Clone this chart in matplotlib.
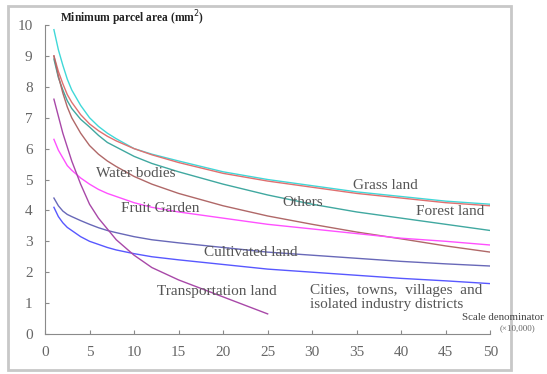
import matplotlib
matplotlib.use("Agg")
import matplotlib.pyplot as plt
from matplotlib.patches import Rectangle

plt.rcParams['font.family'] = ['Liberation Serif', 'DejaVu Serif']

# scale denominator (x 10,000) and minimum parcel area (mm2) per land type
scale = [1, 1.5, 2, 2.5, 3, 4, 5, 6, 7, 8, 10, 12, 15, 20, 25, 30, 35, 40, 45, 50]
grass = [9.85, 9.2, 8.7, 8.25, 7.9, 7.4, 7.0, 6.72, 6.5, 6.32, 6.0, 5.82, 5.6,
         5.25, 5.0, 4.8, 4.6, 4.45, 4.3, 4.2]
others = [9.0, 8.5, 8.1, 7.75, 7.5, 7.1, 6.8, 6.58, 6.4, 6.25, 6.0, 5.8, 5.55,
          5.2, 4.95, 4.75, 4.55, 4.4, 4.25, 4.15]
forest = [8.9, 8.3, 7.9, 7.55, 7.3, 6.95, 6.7, 6.43, 6.2, 6.05, 5.75, 5.52, 5.25,
          4.85, 4.5, 4.2, 3.95, 3.75, 3.55, 3.35]
water = [9.0, 8.35, 7.8, 7.35, 7.0, 6.5, 6.1, 5.82, 5.6, 5.42, 5.1, 4.85, 4.55,
         4.15, 3.82, 3.55, 3.3, 3.08, 2.85, 2.65]
fruit = [6.3, 5.95, 5.7, 5.45, 5.3, 5.05, 4.85, 4.68, 4.55, 4.45, 4.25, 4.1, 3.95,
         3.75, 3.55, 3.4, 3.25, 3.1, 3.0, 2.88]
cultivated = [4.4, 4.15, 3.98, 3.87, 3.8, 3.67, 3.55, 3.44, 3.35, 3.28, 3.15, 3.05,
              2.95, 2.8, 2.65, 2.55, 2.45, 2.35, 2.27, 2.2]
cities = [4.1, 3.8, 3.6, 3.45, 3.35, 3.15, 3.0, 2.9, 2.8, 2.72, 2.6, 2.5, 2.4,
          2.25, 2.1, 2.0, 1.9, 1.8, 1.72, 1.63]
scale_trans = [1, 1.5, 2, 2.5, 3, 4, 5, 6, 7, 8, 10, 12, 15, 20, 25]
transport = [7.6, 7.05, 6.5, 6.05, 5.6, 4.85, 4.2, 3.75, 3.4, 3.05, 2.55, 2.15,
             1.75, 1.2, 0.65]

fig = plt.figure(figsize=(5.47, 3.74), dpi=100)
ax = fig.add_axes([0.0823, 0.107, 0.814, 0.826])

ax.plot(scale, grass, color='#40d8d8', lw=1)
ax.plot(scale, others, color='#e07070', lw=1)
ax.plot(scale, forest, color='#40a8a0', lw=1)
ax.plot(scale, water, color='#b06868', lw=1)
ax.plot(scale, fruit, color='#ff50ff', lw=1)
ax.plot(scale, cultivated, color='#6868b8', lw=1)
ax.plot(scale, cities, color='#5858ff', lw=1)
ax.plot(scale_trans, transport, color='#a848a8', lw=1)

ax.set_xlim(0, 50)
ax.set_ylim(0, 10)
ax.set_xticks(range(0, 51, 5))
ax.set_yticks(range(0, 11))
for s in ['top', 'right']:
    ax.spines[s].set_visible(False)
for s in ['left', 'bottom']:
    ax.spines[s].set_color('#8a8a8a')
ax.tick_params(direction='in', length=3, color='#8a8a8a', labelcolor='#666666',
               labelsize=11, pad=9)

lab = dict(color='#555555', fontsize=11, ha='center', va='center')
ax.text(38.2, 4.82, 'Grass land', **lab)
ax.text(28.9, 4.24, 'Others', **lab)
ax.text(45.5, 3.98, 'Forest land', **lab)
ax.text(10.2, 5.21, 'Water bodies', **lab)
ax.text(12.9, 4.05, 'Fruit Garden', **lab)
ax.text(23.1, 2.65, 'Cultivated land', **lab)
ax.text(19.3, 1.36, 'Transportation land', **lab)
ax.text(29.8, 1.42, 'Cities,  towns,  villages  and', color='#555555', fontsize=11,
        ha='left', va='center')
ax.text(29.8, 0.94, 'isolated industry districts', color='#555555', fontsize=11,
        ha='left', va='center')

fig.text(60 / 547, 1 - 18 / 374, 'Minimum parcel area (mm$^2$)', fontsize=8.3,
         fontweight='bold', color='#222222', ha='left', va='center')
fig.text(462 / 547, 1 - 317 / 374, 'Scale denominator', fontsize=7.8,
         color='#444444', ha='left', va='center')
fig.text(500 / 547, 1 - 328 / 374, '(\u00d710,000)', fontsize=6.5,
         color='#666666', ha='left', va='center')

# outer frame
fig.patches.append(Rectangle((8 / 547, 1 - 370 / 374), 503 / 547, 364 / 374,
                             transform=fig.transFigure, fill=False,
                             edgecolor='#c8c8c8', lw=2))

fig.savefig('out.png', dpi=100)
